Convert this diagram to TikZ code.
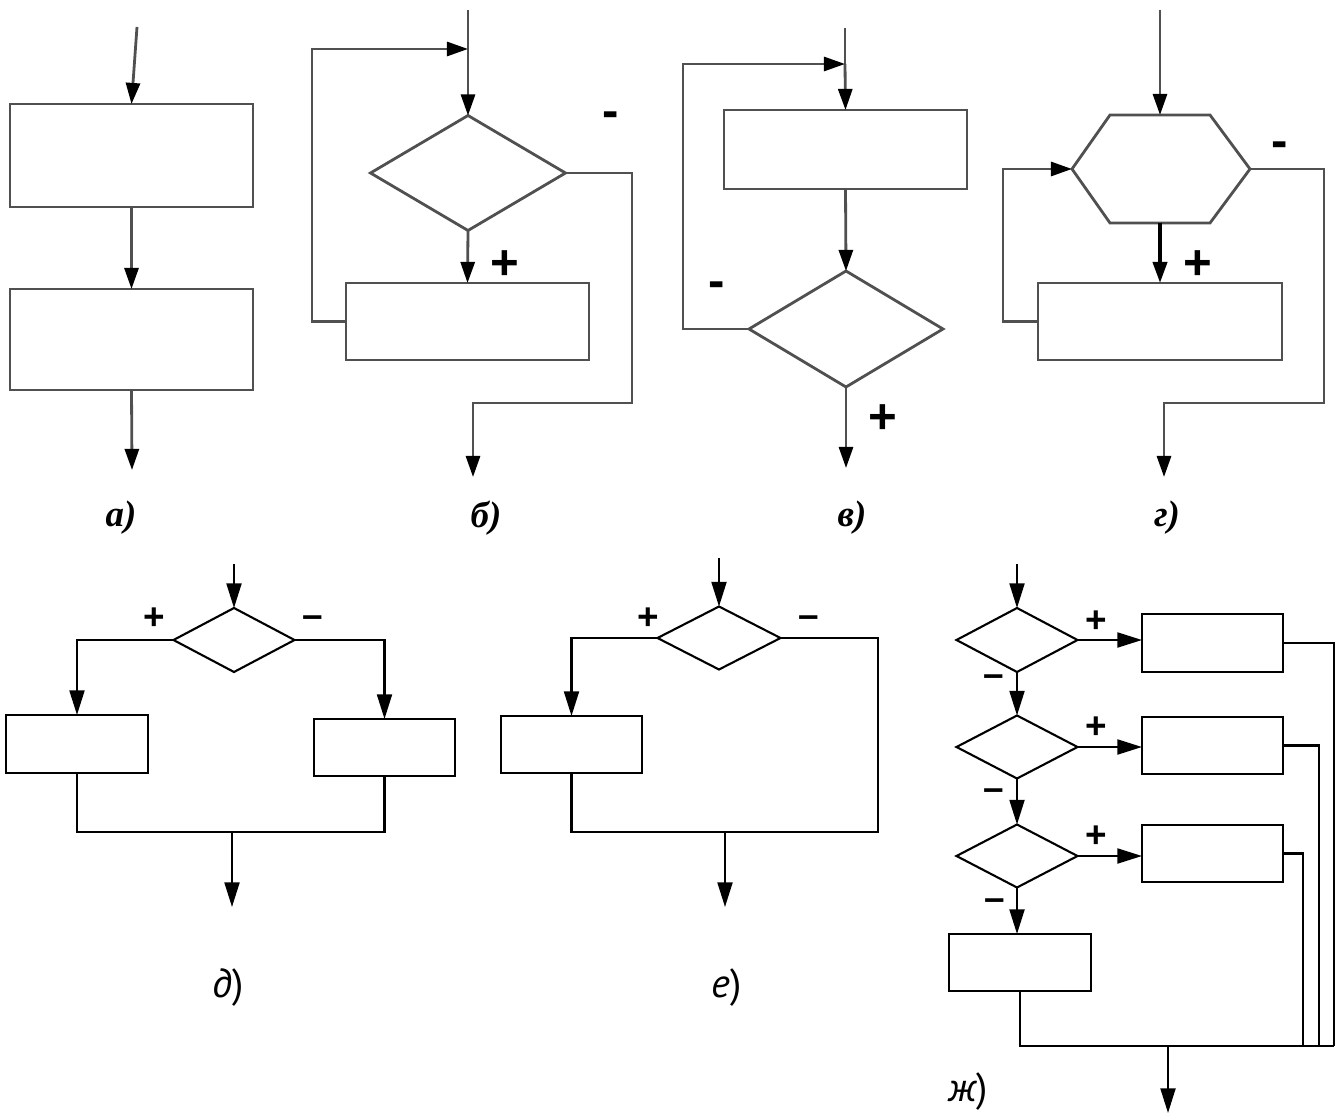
\documentclass[tikz,border=0pt]{standalone}
\usepackage{fontspec}
\setmainfont{Liberation Sans}
\newfontfamily\capfont{Liberation Serif}
\newfontfamily\ptfont{PT Sans}
\usetikzlibrary{arrows.meta}
\usetikzlibrary{shapes.geometric}
\definecolor{linegray}{RGB}{80,80,80}
% block: name, x1, y1, x2, y2
\newcommand{\blk}[5]{\node[blk, minimum width={(#4-#2)*0.02cm}, minimum height={(#5-#3)*0.02cm}] (#1) at ({(#2+#4)/2},{(#3+#5)/2}) {};}
% condition: name, cx, cy, width, height
\newcommand{\cond}[5]{\node[cond, minimum width={#4*0.02cm}, minimum height={#5*0.02cm}] (#1) at (#2,#3) {};}

\begin{document}
\begin{tikzpicture}[x=0.02cm, y=-0.02cm,
    blk/.style={draw, rectangle, inner sep=0pt, outer sep=0pt},
    cond/.style={draw, diamond, inner sep=0pt, outer sep=0pt},
    tarr/.style={-{Triangle[length=12pt,width=8pt,color=black]}},
    barr/.style={-{Triangle[length=14pt,width=8.5pt,color=black]}},
    sign/.style={font=\fontsize{28}{28}\selectfont\bfseries, inner sep=0pt},
    bsign/.style={font=\fontsize{21}{21}\selectfont\bfseries, inner sep=0pt},
    caption/.style={font=\capfont\fontsize{21}{21}\selectfont\bfseries\itshape, inner sep=0pt},
    bcaption/.style={font=\ptfont\fontsize{23}{23}\selectfont, inner sep=0pt}]
    \useasboundingbox (0,0) rectangle (1342,1118);
    \begin{scope}[linegray, line width=1.6pt]
        % panel a
        \blk{a-b1}{10}{104}{253}{207}
        \blk{a-b2}{10}{289}{253}{390}
        \coordinate (a-in) at (137,27);
        \coordinate (a-out) at (132,470);
        \draw[tarr] (a-in) -- (a-b1.north);
        \draw[tarr] (a-b1.south) -- (a-b2.north);
        \draw[tarr] (a-b2.south) -- (a-out);
        \node[caption, black] (a-cap) at (121,518) {а)};
        % panel b
        \cond{b-d}{468}{173}{195}{115}
        \blk{b-b}{346}{283}{589}{360}
        \coordinate (b-in) at (468,10);
        \coordinate (b-j) at (468,49);
        \coordinate (b-out) at (473,477);
        \draw (b-in) -- (b-j);
        \draw[tarr] (b-j) -- (b-d.north);
        \draw[tarr] (b-b.west) -- ++(-34,0) |- (b-j);
        \draw[tarr] (b-d.south) -- (b-b.north);
        \draw[tarr] (b-d.east) -| (632,403) -| (b-out);
        \node[sign, black] (b-minus) at (611,120) {-};
        \node[sign, black] (b-plus) at (505,265) {+};
        \node[caption, black] (b-cap) at (486,518) {б)};
        % panel c
        \blk{c-b}{724}{110}{967}{189}
        \cond{c-d}{846}{329}{194}{116}
        \coordinate (c-in) at (845,28);
        \coordinate (c-j) at (845,64);
        \coordinate (c-out) at (846,468);
        \draw (c-in) -- (c-j);
        \draw[tarr] (c-j) -- (c-b.north);
        \draw[tarr] (c-b.south) -- (c-d.north);
        \draw[tarr] (c-d.west) -- ++(-66,0) |- (c-j);
        \draw[tarr] (c-d.south) -- (c-out);
        \node[sign, black] (c-minus) at (717,290) {-};
        \node[sign, black] (c-plus) at (883,419) {+};
        \node[caption, black] (c-cap) at (852,518) {в)};
        % panel d
        \coordinate (g-hn) at (1160,115);
        \coordinate (g-hs) at (1160,223);
        \coordinate (g-hw) at (1072,169);
        \coordinate (g-he) at (1250,169);
        \draw (1110,115) -- (1210,115) -- (g-he) -- (1210,223) -- (1110,223) -- (g-hw) -- cycle;
        \blk{g-b}{1038}{283}{1282}{360}
        \coordinate (g-in) at (1160,10);
        \coordinate (g-out) at (1164,477);
        \draw[tarr] (g-in) -- (g-hn);
        \draw[tarr, black, line width=2.2pt] (g-hs) -- (g-b.north);
        \draw[tarr] (g-b.west) -- ++(-35,0) |- (g-hw);
        \draw[tarr] (g-he) -| (1324,403) -| (g-out);
        \node[sign, black] (g-minus) at (1280,150) {-};
        \node[sign, black] (g-plus) at (1198,265) {+};
        \node[caption, black] (g-cap) at (1167,518) {г)};
    \end{scope}
    \begin{scope}[black, line width=1.2pt]
        % panel e
        \cond{d-d}{234}{640}{121}{64}
        \blk{d-b1}{6}{715}{148}{773}
        \blk{d-b2}{314}{719}{455}{776}
        \coordinate (d-in) at (234,564);
        \coordinate (d-m) at (232,832);
        \coordinate (d-out) at (232,907);
        \draw[barr] (d-in) -- (d-d.north);
        \draw[barr] (d-d.west) -| (d-b1.north);
        \draw[barr] (d-d.east) -| (d-b2.north);
        \draw (d-b1.south) |- (d-m) -| (d-b2.south);
        \draw[barr] (d-m) -- (d-out);
        \node[bsign] (d-plus) at (154,619) {+};
        \node[bsign] (d-minus) at (313,622) {–};
        \node[bcaption] (d-cap) at (228,988) {{\itshape д})};
        % panel f
        \cond{e-d}{719}{638}{123}{63}
        \blk{e-b}{501}{716}{642}{773}
        \coordinate (e-in) at (719,558);
        \coordinate (e-m) at (725,832);
        \coordinate (e-out) at (725,907);
        \draw[barr] (e-in) -- (e-d.north);
        \draw[barr] (e-d.west) -| (e-b.north);
        \draw (e-d.east) -| (878,832) -- (e-m) -| (e-b.south);
        \draw[barr] (e-m) -- (e-out);
        \node[bsign] (e-plus) at (648,619) {+};
        \node[bsign] (e-minus) at (809,622) {–};
        \node[bcaption] (e-cap) at (727,988) {{\itshape е})};
        % panel g
        \cond{z-d1}{1017}{640}{121}{64}
        \cond{z-d2}{1017}{747}{121}{63}
        \cond{z-d3}{1017}{856}{121}{63}
        \blk{z-b1}{1142}{614}{1283}{672}
        \blk{z-b2}{1142}{717}{1283}{774}
        \blk{z-b3}{1142}{825}{1283}{882}
        \blk{z-b4}{949}{934}{1091}{991}
        \coordinate (z-in) at (1017,564);
        \coordinate (z-m) at (1168,1046);
        \coordinate (z-out) at (1168,1113);
        \draw[barr] (z-in) -- (z-d1.north);
        \draw[barr] (z-d1.south) -- (z-d2.north);
        \draw[barr] (z-d2.south) -- (z-d3.north);
        \draw[barr] (z-d3.south) -- (z-d3.south |- z-b4.north);
        \draw[barr] (z-d1.east) -- (z-d1.east -| z-b1.west);
        \draw[barr] (z-d2.east) -- (z-d2.east -| z-b2.west);
        \draw[barr] (z-d3.east) -- (z-d3.east -| z-b3.west);
        \draw (z-b1.east) -| (1334,1046);
        \draw (z-b2.east) -| (1319,1046);
        \draw (z-b3.east) -| (1303,1046);
        \draw (z-b4.south) |- (1334,1046);
        \draw[barr] (z-m) -- (z-out);
        \node[bsign] (z-plus1) at (1096,622) {+};
        \node[bsign] (z-plus2) at (1096,728) {+};
        \node[bsign] (z-plus3) at (1096,837) {+};
        \node[bsign] (z-minus1) at (994,681) {–};
        \node[bsign] (z-minus2) at (994,795) {–};
        \node[bsign] (z-minus3) at (995,905) {–};
        \node[bcaption] (z-cap) at (968,1092) {{\itshape ж})};
    \end{scope}
\end{tikzpicture}
\end{document}
